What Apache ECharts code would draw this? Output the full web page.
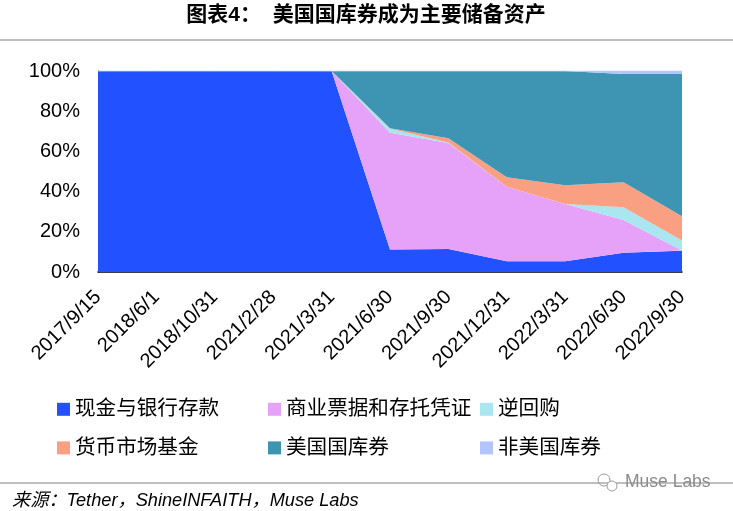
<!DOCTYPE html>
<html lang="zh">
	<head>
		<meta charset="UTF-8" />
		<title>图表4</title>
		<script src="https://cdn.jsdelivr.net/npm/echarts@6/dist/echarts.min.js"></script>
		<style>
			html, body { margin: 0; padding: 0; background: #fff; }
		</style>
	</head>
	<body>
		<div id="main" style="width: 733px; height: 511px"></div>
		<script type="text/javascript">
			const categories = ["2017/9/15", "2018/6/1", "2018/10/31", "2021/2/28", "2021/3/31", "2021/6/30", "2021/9/30", "2021/12/31", "2022/3/31", "2022/6/30", "2022/9/30"];
			const cash = [100, 100, 100, 100, 100, 11.2, 11.5, 5.4, 5.4, 9.6, 10.6];
			const commercialPaper = [0, 0, 0, 0, 0, 58.1, 52.7, 37, 28.4, 16.3, 0.1];
			const repo = [0, 0, 0, 0, 0, 2, 0.2, 0, 0, 6.3, 5];
			const moneyMarket = [0, 0, 0, 0, 0, 0.2, 2.1, 4.8, 9.4, 12.5, 12];
			const usTreasury = [0, 0, 0, 0, 0, 28.5, 33.5, 52.8, 56.8, 53.8, 70.8];
			const nonUsTreasury = [0, 0, 0, 0, 0, 0, 0, 0, 0, 1.5, 1.5];

			const sans = '"Liberation Sans", Arial, "Noto Sans CJK SC", sans-serif';
			const cjk = '"Liberation Sans", "Noto Sans CJK SC", sans-serif';

			function area(name, data, color, lineWidth) {
				return {
					name: name,
					type: "line",
					stack: "total",
					data: data,
					symbol: "none",
					itemStyle: { color: color },
					lineStyle: { width: lineWidth || 0, color: color },
					areaStyle: { color: color, opacity: 1 },
				};
			}

			function legendColumn(left, names) {
				return {
					left: left,
					top: 399,
					orient: "vertical",
					padding: 0,
					data: names,
					icon: "rect",
					itemWidth: 13,
					itemHeight: 13,
					itemGap: 18,
					selectedMode: false,
					textStyle: { fontFamily: cjk, fontSize: 20.6, lineHeight: 20, color: "#000" },
				};
			}

			let options = {
				animation: false,
				backgroundColor: "#fff",
				title: {
					text: "图表4：  美国国库券成为主要储备资产",
					left: 361,
					top: 0,
					textAlign: "center",
					textStyle: { fontFamily: cjk, fontSize: 21, fontWeight: "bold", color: "#000" },
				},
				grid: { left: 98, right: 51, top: 71, bottom: 239 },
				legend: [
					legendColumn(57, ["现金与银行存款", "货币市场基金"]),
					legendColumn(268, ["商业票据和存托凭证", "美国国库券"]),
					legendColumn(480, ["逆回购", "非美国库券"]),
				],
				xAxis: {
					type: "category",
					data: categories,
					boundaryGap: false,
					axisLine: { lineStyle: { color: "#000", width: 1.5 } },
					axisTick: { show: false },
					axisLabel: { interval: 0, rotate: 45, fontFamily: sans, fontSize: 20, color: "#000", margin: 22 },
				},
				yAxis: {
					type: "value",
					min: 0,
					max: 100,
					interval: 20,
					splitLine: { show: false },
					axisLine: { show: true, lineStyle: { color: "#000", width: 1 } },
					axisTick: { show: false },
					axisLabel: { formatter: "{value}%", fontFamily: sans, fontSize: 20, color: "#000", margin: 18, padding: [5, 0, 0, 0] },
				},
				series: [
					area("现金与银行存款", cash, "#2251ff"),
					area("商业票据和存托凭证", commercialPaper, "#e5a2f8"),
					area("逆回购", repo, "#a9e6ef"),
					area("货币市场基金", moneyMarket, "#f9a083"),
					area("美国国库券", usTreasury, "#3e95b3"),
					area("非美国库券", nonUsTreasury, "#b3c5ff", 1),
				],
				graphic: [
					{ type: "rect", shape: { x: 0, y: 39, width: 733, height: 2 }, style: { fill: "#bfbfbf" } },
					{ type: "rect", shape: { x: 0, y: 482, width: 733, height: 2 }, style: { fill: "#bfbfbf" } },
					{ type: "circle", shape: { cx: 604, cy: 480, r: 6 }, style: { fill: "none", stroke: "#9a9a9a", lineWidth: 1 } },
					{ type: "circle", shape: { cx: 612, cy: 486, r: 5 }, style: { fill: "#fff", stroke: "#9a9a9a", lineWidth: 1 } },
					{ type: "text", x: 625, y: 473, style: { text: "Muse Labs", font: '17.5px "Liberation Sans"', fill: "#8c8c8c" } },
					{ type: "text", x: 12, y: 492, style: { text: "来源：Tether，ShineINFAITH，Muse Labs", font: 'italic 18.2px "Liberation Sans", "Noto Sans CJK SC"', fill: "#000" } },
				],
			};

			let myChart = echarts.init(document.getElementById("main"));
			myChart.setOption(options);
		</script>
	</body>
</html>
